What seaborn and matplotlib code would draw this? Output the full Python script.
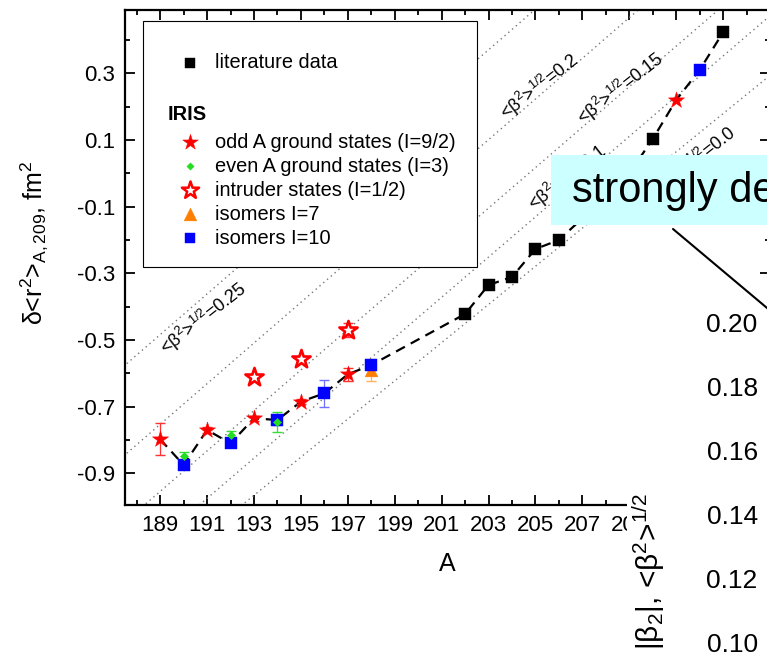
import numpy as np
import pandas as pd
import matplotlib
matplotlib.use("Agg")
import matplotlib.pyplot as plt
import seaborn as sns
from matplotlib.patches import Rectangle
from matplotlib.lines import Line2D
from matplotlib.ticker import FixedLocator, FixedFormatter, FormatStrFormatter

# ---------------- data ----------------
lit_A = [202, 203, 204, 205, 206, 207, 208, 209, 210, 213]
lit_r2 = [-0.422, -0.335, -0.311, -0.227, -0.200, -0.135, -0.065, 0.0, 0.103, 0.423]

odd_A = [189, 191, 193, 195, 197, 211]
odd_r2 = [-0.798, -0.770, -0.735, -0.685, -0.603, 0.220]
odd_err = [0.048, 0.008, 0.008, 0.008, 0.020, 0.0]

even_A = [190, 192, 194]
even_r2 = [-0.847, -0.785, -0.747]
even_err = [0.012, 0.012, 0.030]

intr_A = [193, 195, 197]
intr_r2 = [-0.610, -0.557, -0.470]
intr_err = [0.008, 0.008, 0.020]

iso7_A = [198]
iso7_r2 = [-0.590]
iso7_err = [0.032]

iso10_A = [190, 192, 194, 196, 198, 212]
iso10_r2 = [-0.875, -0.810, -0.740, -0.660, -0.575, 0.310]
iso10_err = [0.006, 0.006, 0.015, 0.040, 0.010, 0.006]

chain_A = [189, 190, 191, 192, 193, 194, 195, 196, 197, 198,
           202, 203, 204, 205, 206, 207, 208, 209, 210, 211, 212, 213]
chain_r2 = [-0.798, -0.875, -0.770, -0.810, -0.735, -0.740, -0.685, -0.660, -0.603, -0.575,
            -0.422, -0.335, -0.311, -0.227, -0.200, -0.135, -0.065, 0.0, 0.103, 0.220, 0.310, 0.423]

beta_names = ["0.25", "0.2", "0.15", "0.1", "0.0"]
beta_A_ends = [185, 216]
beta_r2_start = [-0.728, -0.997, -1.197, -1.337, -1.424]
beta_r2_end = [1.164, 0.894, 0.685, 0.533, 0.351]
beta_lab_A = [190.83, 205.19, 208.64, 206.38, 211.88]
beta_lab_r2 = [-0.434, 0.259, 0.256, -0.014, 0.040]

x_major = list(range(189, 215, 2))
x_major_labels = ["189", "191", "193", "195", "197", "199", "201", "203", "205", "207", "209", "", ""]
x_minor = list(range(188, 216, 2))
y_major = [-0.9, -0.7, -0.5, -0.3, -0.1, 0.1, 0.3]
y_minor = [-0.8, -0.6, -0.4, -0.2, 0.0, 0.2, 0.4]

panel2_ticks = [0.10, 0.12, 0.14, 0.16, 0.18, 0.20]

legend_labels = ["literature data", "odd A ground states (I=9/2)", "even A ground states (I=3)",
                 "intruder states (I=1/2)", "isomers I=7", "isomers I=10"]

# ---------------- style ----------------
sns.set_theme(style="ticks")
plt.rcParams['font.family'] = ['Liberation Sans', 'DejaVu Sans']
plt.rcParams['mathtext.fontset'] = 'custom'
plt.rcParams['mathtext.rm'] = 'Liberation Sans'
plt.rcParams['mathtext.it'] = 'Liberation Sans:italic'
plt.rcParams['mathtext.bf'] = 'Liberation Sans:bold'
plt.rcParams['mathtext.default'] = 'regular'
for k in ['text.color', 'axes.labelcolor', 'xtick.color', 'ytick.color', 'axes.edgecolor']:
    plt.rcParams[k] = 'black'

W, H = 767, 667
fig = plt.figure(figsize=(W / 100, H / 100), dpi=100)
fig.patch.set_facecolor('white')


def fx(px):
    return px / W


def fy(py):
    return 1 - py / H


AX_L, AX_R, AX_T, AX_B = 125, 770, 10, 505
ax = fig.add_axes([fx(AX_L), fy(AX_B), fx(AX_R) - fx(AX_L), fy(AX_T) - fy(AX_B)])
ax.set_facecolor('white')


def afx(px):
    return (px - AX_L) / (AX_R - AX_L)


def afy(py):
    return (AX_B - py) / (AX_B - AX_T)


# iso-deformation lines
rows = []
for name, r0, r1 in zip(beta_names, beta_r2_start, beta_r2_end):
    rows.append({"A": beta_A_ends[0], "r2": r0, "beta": name})
    rows.append({"A": beta_A_ends[1], "r2": r1, "beta": name})
beta_df = pd.DataFrame(rows)
sns.lineplot(data=beta_df, x="A", y="r2", units="beta", estimator=None, color="#777777",
             linestyle=(0, (1, 2.6)), lw=1.0, ax=ax, zorder=1, legend=False)

for name, la, lr in zip(beta_names, beta_lab_A, beta_lab_r2):
    ax.text(la, lr, "<β$^2$>$^{1/2}$=" + name, rotation=38, rotation_mode='anchor',
            ha='center', va='center', fontsize=13, zorder=1.5)

# connecting dashed line
sns.lineplot(x=chain_A, y=chain_r2, sort=False, estimator=None, color="black",
             linestyle=(0, (4.5, 3)), lw=1.6, ax=ax, zorder=2)

# error bars
ax.errorbar(odd_A, odd_r2, yerr=odd_err, fmt='none', ecolor='#FF3030', elinewidth=0.9, capsize=3.6, zorder=2.5)
ax.errorbar(even_A, even_r2, yerr=even_err, fmt='none', ecolor='#33DD33', elinewidth=0.9, capsize=3.6, zorder=2.5)
ax.errorbar(intr_A, intr_r2, yerr=intr_err, fmt='none', ecolor='#FF3030', elinewidth=0.9, capsize=3.6, zorder=2.5)
ax.errorbar(iso7_A, iso7_r2, yerr=iso7_err, fmt='none', ecolor='#FFB060', elinewidth=0.9, capsize=3.6, zorder=2.5)
ax.errorbar(iso10_A, iso10_r2, yerr=iso10_err, fmt='none', ecolor='#7070FF', elinewidth=0.9, capsize=3.6, zorder=2.5)

# markers
sns.scatterplot(x=lit_A, y=lit_r2, marker='s', s=66, color='black', edgecolor='black', linewidth=0.3,
                ax=ax, zorder=3, legend=False)
sns.scatterplot(x=iso7_A, y=iso7_r2, marker='^', s=85, color='#FF7F00', edgecolor='#FF7F00', linewidth=0.3,
                ax=ax, zorder=2.8, legend=False)
sns.scatterplot(x=iso10_A, y=iso10_r2, marker='s', s=70, color='#0000FF', edgecolor='#0000FF', linewidth=0.3,
                ax=ax, zorder=3, legend=False)
sns.scatterplot(x=even_A, y=even_r2, marker='D', s=18, color='#22DD22', edgecolor='#22DD22', linewidth=0.3,
                ax=ax, zorder=4, legend=False)
sns.scatterplot(x=odd_A, y=odd_r2, marker='*', s=150, color='#FF0000', edgecolor='#FF0000', linewidth=0.3,
                ax=ax, zorder=4, legend=False)
sns.scatterplot(x=intr_A, y=intr_r2, marker='*', s=190, facecolor='white', edgecolor='#FF0000', linewidth=1.9,
                ax=ax, zorder=4, legend=False)

# axes
ax.set_xlim(187.5, 215)
ax.set_ylim(-0.995, 0.49)
ax.xaxis.set_major_locator(FixedLocator(x_major))
ax.xaxis.set_major_formatter(FixedFormatter(x_major_labels))
ax.xaxis.set_minor_locator(FixedLocator(x_minor))
ax.yaxis.set_major_locator(FixedLocator(y_major))
ax.yaxis.set_minor_locator(FixedLocator(y_minor))
ax.yaxis.set_major_formatter(FormatStrFormatter('%.1f'))
ax.tick_params(which='both', direction='in', top=True, right=True, width=1.3, labelsize=16, pad=7)
ax.tick_params(which='major', length=7)
ax.tick_params(which='minor', length=3.8)
for sp in ax.spines.values():
    sp.set_linewidth(1.6)
    sp.set_color('black')
    sp.set_visible(True)

ax.set_xlabel('A', fontsize=18)
ax.xaxis.set_label_coords(0.5, afy(552))
ax.set_ylabel('δ<r$^2$>$_{A,209}$, fm$^2$', fontsize=18)
ax.yaxis.set_label_coords(afx(50), afy(243))

# manual legend
ax.add_patch(Rectangle((afx(143), afy(267)), afx(477) - afx(143), afy(21) - afy(267),
                       transform=ax.transAxes, facecolor='white', edgecolor='black', lw=0.8,
                       zorder=10, clip_on=False))
mk_x = afx(190)
tx_x = afx(215)
rows_y = [63, 142, 166, 190, 214, 238]
mk_styles = [
    dict(marker='s', s=55, c='black', edgecolors='black', linewidths=0.3),
    dict(marker='*', s=140, c='#FF0000', edgecolors='#FF0000', linewidths=0.3),
    dict(marker='D', s=14, c='#22DD22', edgecolors='#22DD22', linewidths=0.3),
    dict(marker='*', s=170, facecolors='white', edgecolors='#FF0000', linewidths=1.8),
    dict(marker='^', s=85, c='#FF7F00', edgecolors='#FF7F00', linewidths=0.3),
    dict(marker='s', s=58, c='#0000FF', edgecolors='#0000FF', linewidths=0.3),
]
for lab, py, st in zip(legend_labels, rows_y, mk_styles):
    ax.scatter([mk_x], [afy(py)], transform=ax.transAxes, zorder=11, clip_on=False, **st)
    ax.text(tx_x, afy(py), lab, transform=ax.transAxes, fontsize=14.4, va='center', ha='left', zorder=11)
ax.text(afx(168), afy(115), 'IRIS', transform=ax.transAxes, fontsize=14.4, fontweight='bold',
        va='center', ha='left', zorder=11)

# white cover of the inset panel
fig.add_artist(Rectangle((fx(627), 0), 1, fy(285), transform=fig.transFigure,
                         facecolor='white', edgecolor='none', zorder=1.5))

# cyan annotation box
fig.add_artist(Rectangle((fx(551), fy(225)), fx(820) - fx(551), fy(155) - fy(225), transform=fig.transFigure,
                         facecolor='#CCFFFF', edgecolor='none', zorder=1.6))
fig.text(fx(572), fy(202), 'strongly deformed', fontsize=30, ha='left', va='baseline', zorder=3)
fig.add_artist(Line2D([fx(673), fx(790)], [fy(229), fy(229 + 117 * 0.84)], transform=fig.transFigure,
                      color='black', lw=1.5, zorder=5))

# second panel (only its left labels visible)
ax2 = fig.add_axes([fx(766), 0, 0.3, fy(290)])
ax2.set_zorder(2)
ax2.patch.set_visible(False)
for sp in ax2.spines.values():
    sp.set_visible(False)
ax2.set_ylim(0.10 - 24 * 0.1 / 320, 0.20 + 33 * 0.1 / 320)
ax2.yaxis.set_major_locator(FixedLocator(panel2_ticks))
ax2.yaxis.set_major_formatter(FormatStrFormatter('%.2f'))
ax2.set_xticks([])
ax2.tick_params(axis='y', length=0, labelsize=19, pad=6)
fig.text(fx(649), fy(571), '|β$_2$|, <β$^2$>$^{1/2}$', rotation=90, ha='center', va='center',
         fontsize=21.5, zorder=3)

fig.savefig('out.png', dpi=100, facecolor='white')
